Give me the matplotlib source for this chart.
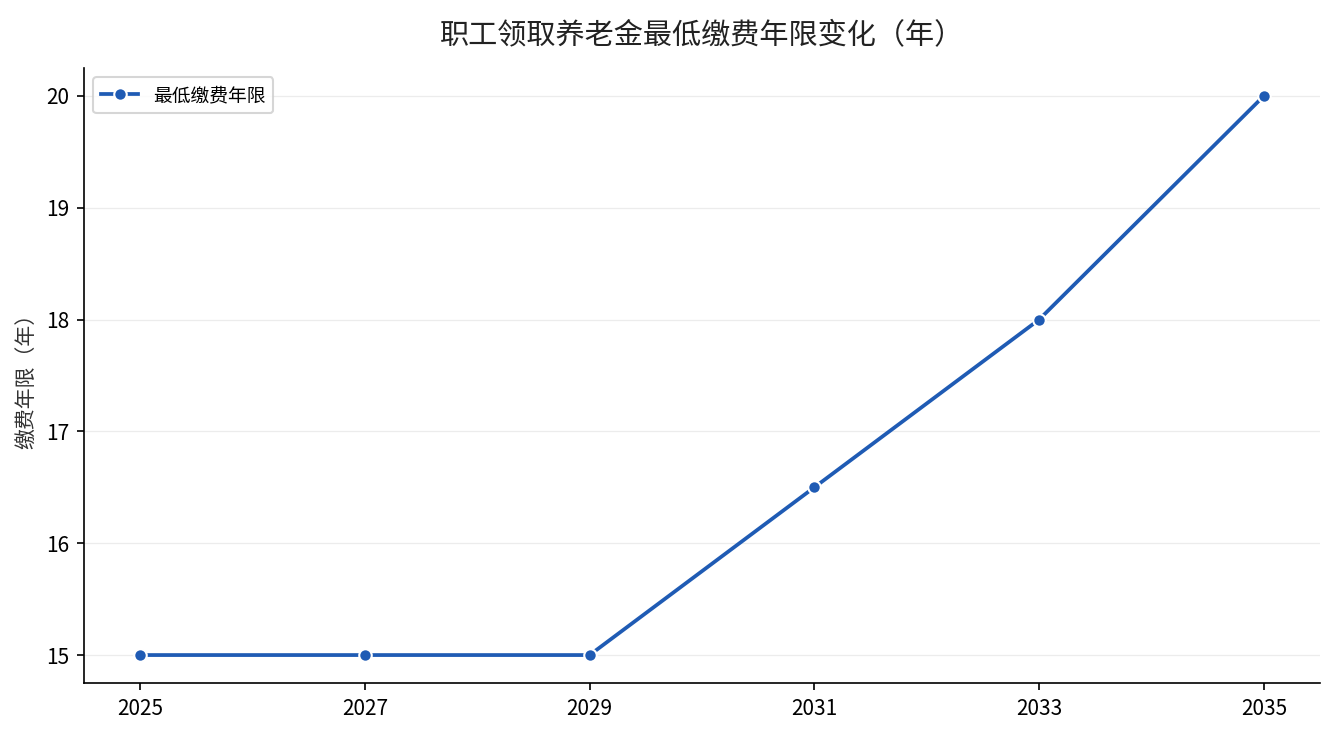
import matplotlib
matplotlib.use("Agg")
import matplotlib.pyplot as plt

plt.rcParams['font.family'] = ['Noto Sans CJK SC', 'DejaVu Sans']

years = [2025, 2027, 2029, 2031, 2033, 2035]
min_years = [15, 15, 15, 16.5, 18, 20]

fig = plt.figure(figsize=(8.9, 4.9), dpi=150)
ax = fig.add_axes([84/1335, 52/735, 1236/1335, 615/735])

ax.plot(years, min_years, color='#1f5bb4', linewidth=1.8, marker='o',
        markersize=6, markeredgecolor='white', markeredgewidth=1,
        label='最低缴费年限')

ax.set_xticks(years)
ax.set_yticks([15, 16, 17, 18, 19, 20])
ax.tick_params(labelsize=10)
ax.grid(axis='y', color='#ececec', linewidth=0.6)
ax.set_axisbelow(True)
for s in ['top', 'right']:
    ax.spines[s].set_visible(False)

ax.set_ylabel('缴费年限（年）', fontsize=10, color='#333333')
ax.set_title('职工领取养老金最低缴费年限变化（年）', fontsize=14, pad=12, color='#222222')
ax.legend(loc='upper left', fontsize=9, frameon=True)

fig.savefig('out.png', dpi=150)
